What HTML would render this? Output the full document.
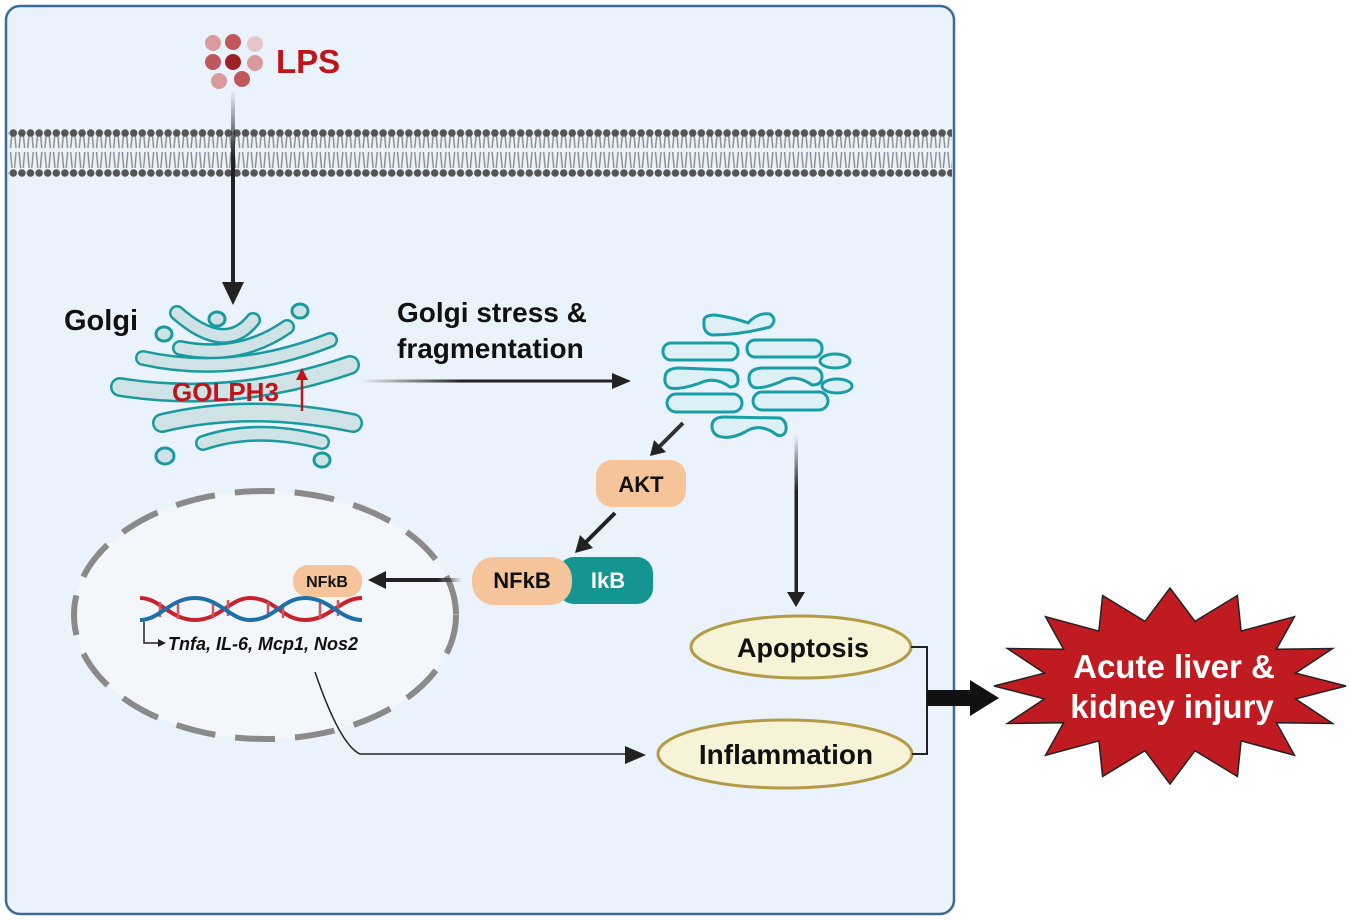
<!DOCTYPE html>
<html><head><meta charset="utf-8"><style>
html,body{margin:0;padding:0;background:#fff;}
svg{display:block;font-family:"Liberation Sans",Arial,sans-serif;font-weight:bold;}
</style></head><body>
<svg id="s" width="1350" height="920" viewBox="0 0 1350 920" xmlns="http://www.w3.org/2000/svg">
<defs>
<linearGradient id="gv" x1="0" y1="0" x2="0" y2="1"><stop offset="0" stop-color="#222" stop-opacity="0"/><stop offset="0.35" stop-color="#222"/><stop offset="1" stop-color="#222"/></linearGradient>
<linearGradient id="gh" x1="0" y1="0" x2="1" y2="0"><stop offset="0" stop-color="#222" stop-opacity="0"/><stop offset="0.4" stop-color="#222"/><stop offset="1" stop-color="#222"/></linearGradient>
<linearGradient id="gh2" x1="1" y1="0" x2="0" y2="0"><stop offset="0" stop-color="#222" stop-opacity="0"/><stop offset="0.3" stop-color="#222"/><stop offset="1" stop-color="#222"/></linearGradient>
<pattern id="mem" x="9" y="128" width="8.6" height="50" patternUnits="userSpaceOnUse">
<path d="M3 5 L1.5 20 M5.6 5 L7 20 M1.5 24 L3 40 M7 24 L5.6 40" stroke="#8a8a8a" stroke-width="1.4" fill="none"/>
<circle cx="4.3" cy="5" r="3.8" fill="#555"/><circle cx="4.3" cy="45" r="3.8" fill="#555"/>
</pattern>
</defs>
<rect x="6" y="6" width="948" height="908" rx="14" fill="#eaf2fb" stroke="#3b6a98" stroke-width="2.5"/>
<rect x="8" y="128" width="944" height="50" fill="url(#mem)"/>
<!-- LPS -->
<g>
<circle cx="213" cy="43" r="8" fill="#d99a9e"/><circle cx="233" cy="42" r="8" fill="#c0575d"/><circle cx="255" cy="44" r="8" fill="#e5c6ca"/>
<circle cx="213" cy="62" r="8" fill="#c0575d"/><circle cx="233" cy="62" r="8" fill="#9e2024"/><circle cx="255" cy="63" r="8" fill="#d99a9e"/>
<circle cx="219" cy="81" r="8" fill="#d99a9e"/><circle cx="242" cy="79" r="8" fill="#c0575d"/>
</g>
<text x="276" y="73" font-size="33" fill="#c0141b">LPS</text>
<rect x="231" y="90" width="4" height="195" fill="url(#gv)"/>
<path d="M222 282 L244 282 L233 305z" fill="#222"/>
<text x="64" y="330" font-size="29" fill="#111">Golgi</text>
<!-- Golgi -->
<g fill="none" stroke-linecap="round">
<g stroke="#1a9aa0" stroke-width="20">
<path d="M120 387 Q233 405 350 365"/>
<path d="M162 423 Q250 402 353 423"/>
</g>
<g stroke="#1a9aa0" stroke-width="16">
<path d="M143 358 Q233 378 330 340"/>
<path d="M180 348 Q240 360 287 327"/>
<path d="M177 313 Q225 355 253 320"/>
<path d="M203 443 Q255 425 322 442"/>
</g>
<g stroke="#cfe3e6" stroke-width="15">
<path d="M120 387 Q233 405 350 365"/>
<path d="M162 423 Q250 402 353 423"/>
</g>
<g stroke="#cfe3e6" stroke-width="11">
<path d="M143 358 Q233 378 330 340"/>
<path d="M180 348 Q240 360 287 327"/>
<path d="M177 313 Q225 355 253 320"/>
<path d="M203 443 Q255 425 322 442"/>
</g>
</g>
<g fill="#cfe3e6" stroke="#1a9aa0" stroke-width="3">
<ellipse cx="164" cy="334" rx="8" ry="7"/><ellipse cx="217" cy="319" rx="8" ry="7"/><ellipse cx="300" cy="311" rx="8" ry="7"/><ellipse cx="165" cy="456" rx="9" ry="8"/><ellipse cx="322" cy="460" rx="8" ry="7"/>
</g>
<text x="172" y="401" font-size="26" fill="#c0141b">GOLPH3</text>
<path d="M302 411 V378" stroke="#c0141b" stroke-width="2.5"/><path d="M296 380 L308 380 L302 368z" fill="#c0141b"/>
<text x="397" y="322" font-size="28" fill="#111">Golgi stress &amp;</text>
<text x="397" y="358" font-size="28" fill="#111">fragmentation</text>
<rect x="360" y="379.5" width="255" height="3" fill="url(#gh)"/>
<path d="M612 373 L631 381 L612 389z" fill="#222"/>
<!-- fragments -->
<g fill="#dcf0f5" stroke="#1a9ea6" stroke-width="3">
<path d="M704 322 Q703 315 715 315 Q735 318 748 323 Q758 312 770 314 Q778 320 770 327 Q740 335 712 335 Q703 333 704 322z"/>
<rect x="663" y="343" width="75" height="17" rx="8"/>
<rect x="747" y="340" width="75" height="17" rx="8"/>
<ellipse cx="835" cy="361" rx="15" ry="7"/>
<path d="M665 378 Q665 368 680 368 L730 370 Q738 372 738 380 Q738 387 730 387 Q715 376 700 383 Q680 390 670 388 Q664 385 665 378z"/>
<path d="M749 378 Q749 368 764 368 L815 368 Q822 370 822 377 Q822 385 812 385 Q795 373 780 382 Q760 390 753 387 Q749 384 749 378z"/>
<ellipse cx="837" cy="386" rx="15" ry="7"/>
<rect x="667" y="394" width="75" height="18" rx="9"/>
<rect x="753" y="392" width="75" height="18" rx="9"/>
<path d="M712 426 Q712 417 725 417 L780 418 Q787 421 786 430 Q784 437 777 435 Q760 422 745 432 Q730 440 718 436 Q712 433 712 426z"/>
</g>
<!-- AKT arrows -->
<path d="M683 423 L658 448" stroke="#333" stroke-width="4"/>
<path d="M650 456 L654 440 L666 452z" fill="#222"/>
<rect x="596" y="460" width="90" height="47" rx="16" fill="#f6c49a"/>
<text x="641" y="492" font-size="22" fill="#111" text-anchor="middle">AKT</text>
<path d="M615 513 L585 543" stroke="#222" stroke-width="4"/>
<path d="M575 553 L580 535 L593 548z" fill="#222"/>
<rect x="558" y="557" width="95" height="47" rx="16" fill="#14958f"/>
<text x="608" y="588" font-size="22" fill="#fff" text-anchor="middle">IkB</text>
<rect x="472" y="557" width="100" height="48" rx="22" fill="#f6c49a"/>
<text x="522" y="588" font-size="22" fill="#111" text-anchor="middle">NFkB</text>
<!-- nucleus -->
<ellipse cx="265" cy="615" rx="191" ry="124" fill="#f3f7fc" stroke="#8a8a8a" stroke-width="6" stroke-dasharray="40 20"/>
<rect x="382" y="578" width="80" height="4" fill="url(#gh2)"/>
<path d="M368 580 L386 571 L386 589z" fill="#222"/>
<rect x="293" y="565" width="69" height="32" rx="15" fill="#f6c49a"/>
<text x="327" y="587" font-size="16" fill="#111" text-anchor="middle">NFkB</text>
<g fill="none" stroke-width="4">
<path d="M140 598 C160 598 170 620 195 620 C220 620 230 598 250 598 C275 598 282 620 305 620 C330 620 340 598 362 598" stroke="#c8232a"/>
<g stroke-width="2.5"><path d="M160 602V617 M178 604V619 M213 602V617 M228 600V616 M268 602V617 M283 604V618 M320 603V618 M338 600V616" stroke="#d05560"/></g>
<path d="M140 620 C160 620 170 598 195 598 C220 598 230 620 250 620 C275 620 282 598 305 598 C330 598 340 620 362 620" stroke="#1f6fa8"/>
</g>
<path d="M144 622 V643 H160" stroke="#222" stroke-width="1.5" fill="none"/>
<path d="M158 639 L166 643 L158 647z" fill="#222"/>
<text x="168" y="650" font-size="18" font-style="italic" fill="#111">Tnfa, IL-6, Mcp1, Nos2</text>
<path d="M315 672 Q340 745 360 754 H630" stroke="#222" stroke-width="1.5" fill="none"/>
<path d="M625 746 L646 755 L625 764z" fill="#222"/>
<!-- apoptosis -->
<rect x="794.5" y="435" width="3.5" height="160" fill="url(#gv)"/>
<path d="M787 592 L805 592 L796 607z" fill="#222"/>
<ellipse cx="801" cy="647" rx="110" ry="31" fill="#f7f3d6" stroke="#b39a45" stroke-width="3"/>
<text x="803" y="657" font-size="27" fill="#111" text-anchor="middle">Apoptosis</text>
<ellipse cx="785" cy="754" rx="127" ry="34" fill="#f7f3d6" stroke="#b39a45" stroke-width="3"/>
<text x="786" y="764" font-size="28" fill="#111" text-anchor="middle">Inflammation</text>
<path d="M911 647 H927 V754 H912" stroke="#222" stroke-width="2" fill="none"/>
<path d="M927 690 H970 V680 L999 698 L970 716 V706 H927z" fill="#111"/>
<polygon id="star" fill="#c01b20" stroke="#222" stroke-width="1.5"/>
<text x="1174" y="678" font-size="33" fill="#fff" text-anchor="middle">Acute liver &amp;</text>
<text x="1172" y="718" font-size="33" fill="#fff" text-anchor="middle">kidney injury</text>
</svg>
<script>
var p=[],n=16,cx=1170,cy=686;
for(var i=0;i<2*n;i++){var a=Math.PI*i/n,o=i%2==0;var rx=o?176:128,ry=o?98:66;p.push((cx+rx*Math.cos(a)).toFixed(1)+","+(cy+ry*Math.sin(a)).toFixed(1));}
document.getElementById("star").setAttribute("points",p.join(" "));
</script>
</body></html>
